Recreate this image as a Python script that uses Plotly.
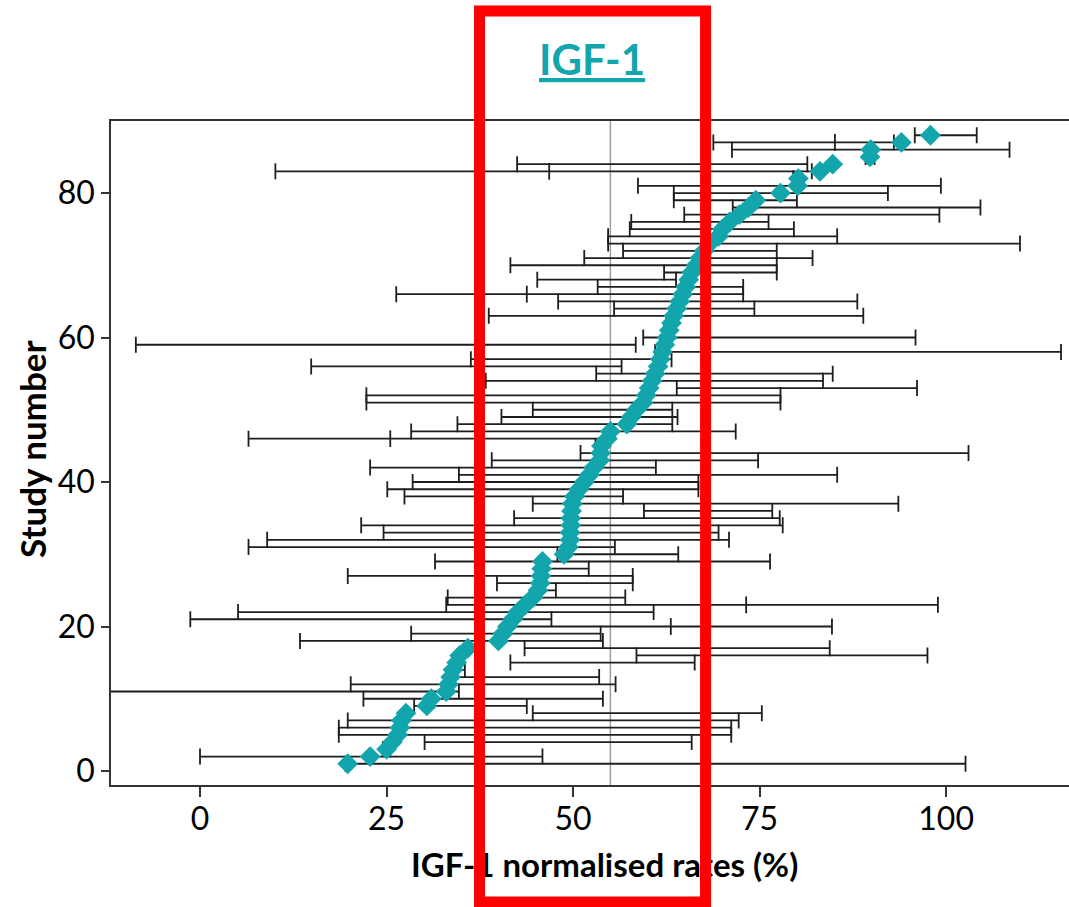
import plotly.graph_objects as go

# ---------------- data ----------------
study = list(range(1, 89))

estimate = [19.8, 22.8, 25.0, 25.8, 26.5, 26.8, 27.0, 27.6, 30.4, 31.0,
            33.0, 33.3, 33.6, 33.9, 34.4, 34.8, 35.9, 40.0, 40.6, 41.2,
            41.9, 42.6, 43.6, 44.6, 45.3, 45.6, 45.7, 45.8, 45.9, 48.8,
            49.4, 49.6, 49.6, 49.7, 49.7, 49.8, 49.9, 50.2, 50.8, 51.5,
            52.2, 52.8, 53.6, 53.7, 53.8, 54.6, 55.0, 57.2, 57.8, 58.5,
            59.4, 59.8, 60.2, 60.6, 61.0, 61.4, 61.7, 62.0, 62.3, 62.6,
            62.9, 63.2, 63.5, 63.9, 64.3, 64.7, 65.1, 65.5, 65.9, 66.5,
            67.0, 67.6, 68.3, 69.5, 70.0, 71.0, 72.3, 73.5, 74.5, 77.8,
            80.1, 80.2, 83.1, 84.8, 89.8, 89.9, 94.0, 97.9]

ci_low = [19.5, 0.0, 24.5, 30.1, 18.6, 18.6, 19.8, 44.6, 28.7, 21.9,
          -20.0, 20.2, 34.2, 33.5, 41.6, 58.5, 43.5, 13.4, 28.3, 41.5,
          -1.3, 5.1, 33.0, 33.2, 45.0, 39.8, 19.8, 45.5, 31.5, 47.9,
          6.5, 9.0, 24.6, 21.6, 42.1, 59.5, 44.6, 27.4, 25.1, 28.5,
          34.7, 22.8, 39.1, 51.0, 53.0, 6.5, 28.3, 34.5, 40.4, 44.6,
          22.3, 22.3, 63.9, 38.3, 53.1, 14.9, 36.3, 61.0, -8.6, 59.4,
          62.2, 62.5, 38.7, 55.5, 48.0, 26.3, 53.3, 45.2, 62.2, 41.6,
          51.5, 56.7, 54.7, 54.7, 57.6, 57.8, 64.9, 71.4, 63.5, 63.5,
          58.7, 79.5, 10.1, 42.5, 89.2, 71.3, 68.8, 95.8]

ci_high = [102.6, 45.9, 25.5, 65.9, 71.2, 71.2, 72.2, 75.3, 43.8, 54.0,
           34.7, 55.7, 53.5, 35.5, 66.3, 97.5, 84.4, 54.0, 53.7, 84.7,
           47.1, 60.8, 98.9, 57.0, 47.7, 58.0, 58.0, 52.1, 76.4, 64.1,
           55.6, 70.9, 69.5, 78.1, 77.7, 76.7, 93.6, 56.7, 66.8, 66.8,
           85.4, 61.1, 74.8, 103.0, 54.5, 55.0, 71.8, 63.3, 64.0, 63.3,
           77.8, 77.8, 96.1, 83.5, 84.8, 56.5, 63.2, 115.4, 58.4, 95.9,
           63.5, 63.8, 88.9, 74.3, 88.1, 72.8, 72.8, 63.8, 77.3, 77.3,
           82.1, 77.3, 109.9, 85.4, 79.6, 76.2, 99.1, 104.6, 80.0, 92.2,
           99.3, 80.5, 82.0, 81.4, 90.4, 108.5, 93.0, 104.1]

# extra cross-bars that sit inside some of the intervals
extra_cap_study = [87, 83, 66, 46, 23, 20]
extra_cap_value = [85.1, 46.8, 43.8, 25.5, 73.2, 63.1]

x_ticks = [0, 25, 50, 75, 100]
y_ticks = [0, 20, 40, 60, 80]
reference_value = 55
highlight_range = [37.46, 67.76]   # red frame, in x-axis units

# ---------------- styling / layout constants ----------------
TEAL = "#12A5AC"
INK = "#1e1e1e"
RED = "#FF0000"
FONT = "Lato"
TICK_FONT = "Liberation Sans Narrow, Arial Narrow, Lato"
X_RANGE = [-11.93, 116.47]
Y_RANGE = [-1.94, 89.97]
W, H = 1069, 907
ML, MR, MT, MB = 111, 0, 121, 122
PW, PH = W - ML - MR, H - MT - MB
FRAME_W = 11


def px_to_paper_x(px):
    return (px - ML) / PW


def px_to_paper_y(py):
    return (H - MB - py) / PH


def data_to_paper_x(v):
    return (v - X_RANGE[0]) / (X_RANGE[1] - X_RANGE[0])


fig = go.Figure()

# interval lines with cross-bars at both ends
fig.add_trace(go.Scatter(
    x=ci_low, y=study, mode="markers",
    marker=dict(size=1, opacity=0),
    error_x=dict(type="data", symmetric=False,
                 array=[h - l for l, h in zip(ci_low, ci_high)],
                 arrayminus=[0] * len(ci_low),
                 color=INK, thickness=1.8, width=8),
    hoverinfo="skip", showlegend=False))

# additional cross-bars
fig.add_trace(go.Scatter(
    x=extra_cap_value, y=extra_cap_study, mode="markers",
    marker=dict(symbol="line-ns", size=12, line=dict(color=INK, width=1.8)),
    hoverinfo="skip", showlegend=False))

# point estimates
fig.add_trace(go.Scatter(
    x=estimate, y=study, mode="markers",
    marker=dict(symbol="diamond", size=16, color=TEAL, line=dict(width=0)),
    showlegend=False))

frame_x0 = data_to_paper_x(highlight_range[0])
frame_x1 = data_to_paper_x(highlight_range[1])

shapes = [
    dict(type="line", xref="x", yref="paper", x0=reference_value, x1=reference_value,
         y0=0, y1=1, line=dict(color="#9c9c9c", width=1.5), layer="below"),
    dict(type="rect", xref="paper", yref="paper",
         x0=frame_x0, x1=frame_x1,
         y0=px_to_paper_y(902), y1=px_to_paper_y(11),
         line=dict(color=RED, width=FRAME_W), fillcolor="rgba(0,0,0,0)", layer="above"),
]

annotations = [
    dict(text="<b><u>IGF-1</u></b>", xref="paper", yref="paper",
         x=px_to_paper_x(592), y=px_to_paper_y(59), showarrow=False,
         xanchor="center", yanchor="middle",
         font=dict(family=FONT, size=42, color=TEAL)),
    dict(text="<b>Study number</b>", xref="paper", yref="paper",
         x=px_to_paper_x(32), y=px_to_paper_y(449), showarrow=False,
         textangle=-90, xanchor="center", yanchor="middle",
         font=dict(family=FONT, size=35, color="#000000")),
    dict(text="<b>IGF-1 normalised rates (%)</b>", xref="paper", yref="paper",
         x=px_to_paper_x(604), y=px_to_paper_y(864), showarrow=False,
         xanchor="center", yanchor="middle",
         font=dict(family=FONT, size=33, color="#000000")),
]
# red frame segments repeated on top of the x-axis title (annotations sit above shapes)
for fx in (frame_x0, frame_x1):
    annotations.append(dict(
        text=" ", xref="paper", yref="paper", x=fx, y=px_to_paper_y(866),
        showarrow=False, xanchor="center", yanchor="middle",
        width=FRAME_W, height=50, bgcolor=RED, borderpad=0, borderwidth=0,
        font=dict(size=2)))

fig.update_layout(
    width=W, height=H,
    margin=dict(l=ML, r=MR, t=MT, b=MB, pad=0),
    paper_bgcolor="white", plot_bgcolor="white",
    shapes=shapes, annotations=annotations,
    font=dict(family=FONT, color="#000000"),
    xaxis=dict(range=X_RANGE, tickvals=x_ticks, ticks="outside", ticklen=10,
               tickwidth=1.5, tickcolor="#333333", showline=True, linecolor="#333333",
               linewidth=1.5, mirror=True, showgrid=False, zeroline=False,
               ticklabelstandoff=-5,
               tickfont=dict(family=TICK_FONT, size=32, color="#000000")),
    yaxis=dict(range=Y_RANGE, tickvals=y_ticks, ticks="outside", ticklen=8,
               tickwidth=1.5, tickcolor="#333333", showline=True, linecolor="#333333",
               linewidth=1.5, showgrid=False, zeroline=False,
               tickfont=dict(family=TICK_FONT, size=32, color="#000000")),
)

fig.write_html("out.html")
